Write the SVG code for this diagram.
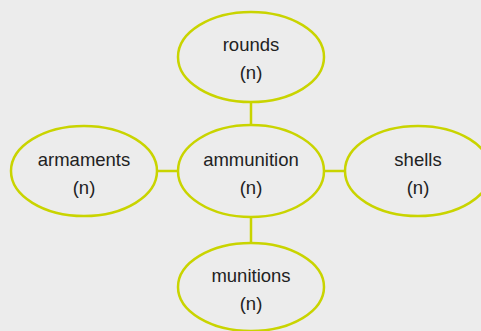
<svg xmlns="http://www.w3.org/2000/svg" width="481" height="331" viewBox="0 0 481 331">
  <style>
    .node { fill: #ececec; stroke: #c9d400; stroke-width: 2.5; }
    .link { stroke: #c9d400; stroke-width: 2.5; fill: none; }
    text { font-family: "Liberation Sans", Arial, sans-serif; font-size: 18.5px; fill: #222222; text-anchor: middle; }
  </style>
  <rect width="481" height="331" fill="#ececec"/>
  <g id="connectors">
    <line class="link" x1="251" y1="101" x2="251" y2="126"/>
    <line class="link" x1="156" y1="171" x2="179" y2="171"/>
    <line class="link" x1="322" y1="171" x2="346" y2="171"/>
    <line class="link" x1="251" y1="216" x2="251" y2="243"/>
  </g>
  <g id="rounds">
    <ellipse class="node" cx="251" cy="57" rx="73" ry="45"/>
    <text x="251" y="51">rounds</text>
    <text x="251" y="79">(n)</text>
  </g>
  <g id="armaments">
    <ellipse class="node" cx="84" cy="171" rx="73" ry="45"/>
    <text x="84" y="166">armaments</text>
    <text x="84" y="194">(n)</text>
  </g>
  <g id="ammunition">
    <ellipse class="node" cx="251" cy="171" rx="73" ry="46"/>
    <text x="251" y="166">ammunition</text>
    <text x="251" y="194">(n)</text>
  </g>
  <g id="shells">
    <ellipse class="node" cx="418" cy="171" rx="73" ry="45"/>
    <text x="418" y="166">shells</text>
    <text x="418" y="194">(n)</text>
  </g>
  <g id="munitions">
    <ellipse class="node" cx="251" cy="287" rx="73" ry="44"/>
    <text x="251" y="282">munitions</text>
    <text x="251" y="310">(n)</text>
  </g>
</svg>
